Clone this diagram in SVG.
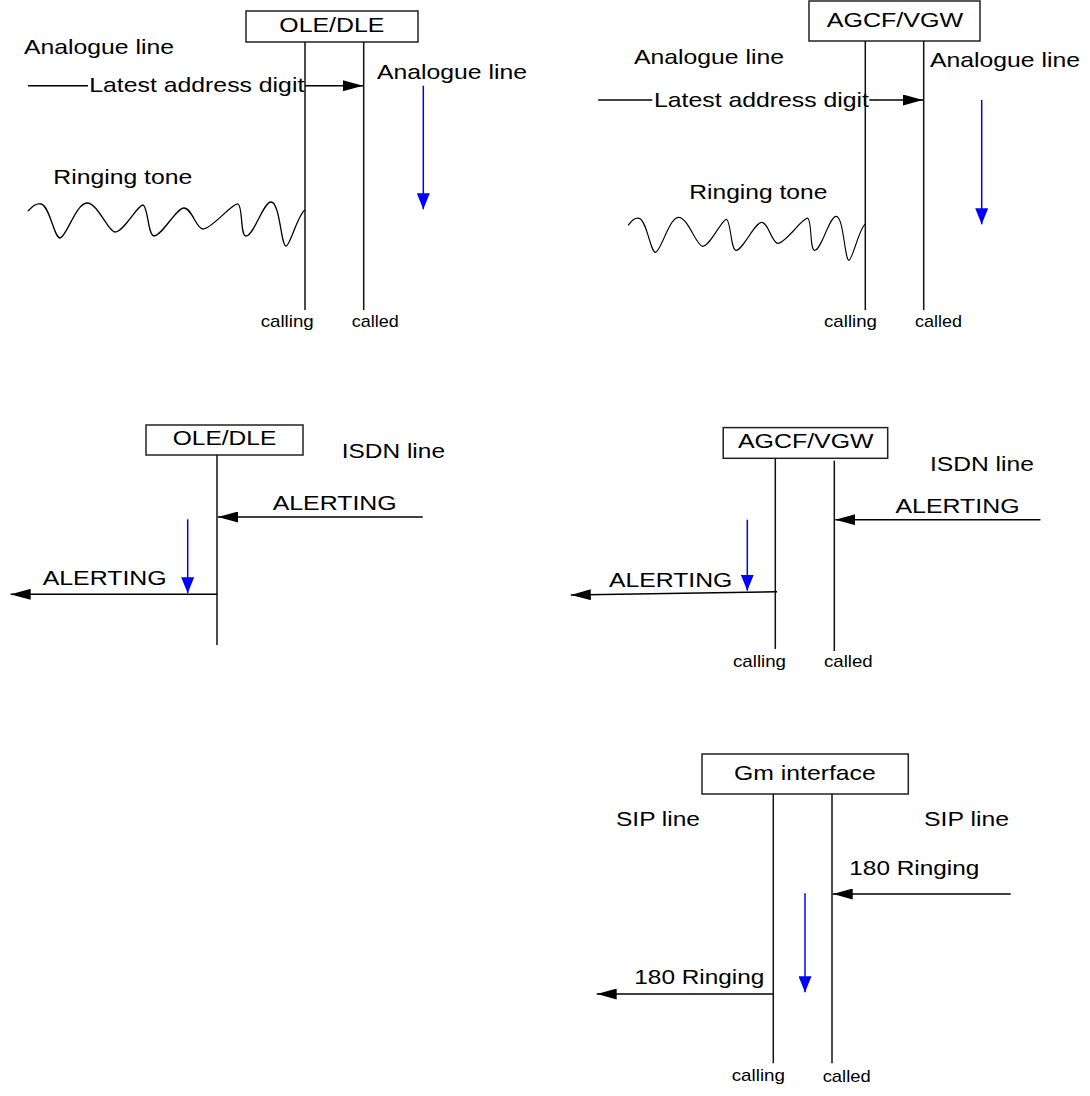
<svg xmlns="http://www.w3.org/2000/svg" width="1090" height="1096" viewBox="0 0 1090 1096">
<style>
  .t { font-family: "Liberation Sans", Arial, sans-serif; font-size: 21px; fill: #000; }
  .s { font-family: "Liberation Sans", Arial, sans-serif; font-size: 17px; fill: #000; }
  .box { fill: #fff; stroke: #222; stroke-width: 1.5; }
  .life { stroke: #111; stroke-width: 1.5; fill: none; }
  .msg { stroke: #000; stroke-width: 1.5; fill: none; }
  .blue { stroke: #0000ff; stroke-width: 1.5; fill: none; }
  .wave { stroke: #000; stroke-width: 1.3; fill: none; }
</style>
<defs>
  <marker id="ah" markerUnits="userSpaceOnUse" markerWidth="20" markerHeight="11" refX="20" refY="5.5" orient="auto">
    <path d="M0,0 L20,5.5 L0,11 z" fill="#000"/>
  </marker>
  <marker id="bh" markerUnits="userSpaceOnUse" markerWidth="16" markerHeight="13" refX="16" refY="6.5" orient="auto">
    <path d="M0,0 L16,6.5 L0,13 z" fill="#0000ff"/>
  </marker>
  <path id="wavepath" d="M28,211 C33,206 36,203 41,204 C50,206 54,238 60,238 C66,238 76,203 87,203 C98,203 108,232 115,232 C124,232 138,204 143,205 C148,206 148,236 154,236 C162,236 176,208 184,208 C192,208 196,229 203,229 C212,229 233,202 238,204 C243,206 240,236 246,236 C254,236 263,202 271,202 C280,202 281,246 286,246 C290,246 298,214 305,210"/>
</defs>

<!-- Panel 1: OLE/DLE analogue -->
<g id="node-ole-dle-1">
  <rect class="box" x="246" y="11" width="172" height="31"/>
  <text class="t" x="279.3" y="32" textLength="105" lengthAdjust="spacingAndGlyphs">OLE/DLE</text>
  <line class="life" x1="305" y1="42" x2="305" y2="310"/>
  <line class="life" x1="363.7" y1="42" x2="363.7" y2="310"/>
  <text class="s" x="260.7" y="327" textLength="53" lengthAdjust="spacingAndGlyphs">calling</text>
  <text class="s" x="351.7" y="327" textLength="47" lengthAdjust="spacingAndGlyphs">called</text>
</g>
<g id="labels-1">
  <text class="t" x="24" y="54" textLength="150" lengthAdjust="spacingAndGlyphs">Analogue line</text>
  <text class="t" x="89.3" y="92" textLength="215" lengthAdjust="spacingAndGlyphs">Latest address digit</text>
  <text class="t" x="377" y="79" textLength="150" lengthAdjust="spacingAndGlyphs">Analogue line</text>
  <text class="t" x="53.3" y="184" textLength="139" lengthAdjust="spacingAndGlyphs">Ringing tone</text>
  <use href="#wavepath" class="wave"/>
</g>

<!-- Panel 2: AGCF/VGW analogue -->
<g id="node-agcf-vgw-1">
  <rect class="box" x="809" y="1" width="171" height="40"/>
  <text class="t" x="826.7" y="26.7" textLength="136.6" lengthAdjust="spacingAndGlyphs">AGCF/VGW</text>
  <line class="life" x1="865.3" y1="41" x2="865.3" y2="310"/>
  <line class="life" x1="923.7" y1="41" x2="923.7" y2="310"/>
  <text class="s" x="824" y="327" textLength="53" lengthAdjust="spacingAndGlyphs">calling</text>
  <text class="s" x="915" y="327" textLength="47" lengthAdjust="spacingAndGlyphs">called</text>
</g>
<g id="labels-2">
  <text class="t" x="634" y="64" textLength="150" lengthAdjust="spacingAndGlyphs">Analogue line</text>
  <text class="t" x="930" y="67" textLength="150" lengthAdjust="spacingAndGlyphs">Analogue line</text>
  <text class="t" x="654" y="107" textLength="215" lengthAdjust="spacingAndGlyphs">Latest address digit</text>
  <text class="t" x="689.3" y="199.3" textLength="138" lengthAdjust="spacingAndGlyphs">Ringing tone</text>
  <use href="#wavepath" class="wave" transform="translate(604.1,14.3) scale(0.856,1)" vector-effect="non-scaling-stroke"/>
</g>

<!-- Panel 3: OLE/DLE ISDN -->
<g id="node-ole-dle-2">
  <rect class="box" x="146" y="425" width="157" height="30"/>
  <text class="t" x="172.7" y="445" textLength="103.6" lengthAdjust="spacingAndGlyphs">OLE/DLE</text>
  <line class="life" x1="217" y1="455" x2="217" y2="645"/>
</g>
<g id="labels-3">
  <text class="t" x="341.7" y="458.3" textLength="103.3" lengthAdjust="spacingAndGlyphs">ISDN line</text>
  <text class="t" x="272.7" y="510" textLength="124" lengthAdjust="spacingAndGlyphs">ALERTING</text>
  <text class="t" x="42.7" y="585" textLength="124" lengthAdjust="spacingAndGlyphs">ALERTING</text>
</g>

<!-- Panel 4: AGCF/VGW ISDN -->
<g id="node-agcf-vgw-2">
  <rect class="box" x="723.2" y="427.6" width="164.5" height="30.7"/>
  <text class="t" x="738" y="448.2" textLength="135.5" lengthAdjust="spacingAndGlyphs">AGCF/VGW</text>
  <line class="life" x1="775.3" y1="458.3" x2="775.3" y2="649"/>
  <line class="life" x1="834.3" y1="460.7" x2="834.3" y2="651"/>
  <text class="s" x="733" y="667" textLength="53" lengthAdjust="spacingAndGlyphs">calling</text>
  <text class="s" x="824" y="667" textLength="48.7" lengthAdjust="spacingAndGlyphs">called</text>
</g>
<g id="labels-4">
  <text class="t" x="929.9" y="470.8" textLength="104" lengthAdjust="spacingAndGlyphs">ISDN line</text>
  <text class="t" x="895.5" y="513.2" textLength="124" lengthAdjust="spacingAndGlyphs">ALERTING</text>
  <text class="t" x="609" y="586.5" textLength="123.3" lengthAdjust="spacingAndGlyphs">ALERTING</text>
</g>

<!-- Panel 5: Gm interface -->
<g id="node-gm">
  <rect class="box" x="702" y="754" width="206.3" height="40"/>
  <text class="t" x="734" y="780" textLength="141.7" lengthAdjust="spacingAndGlyphs">Gm interface</text>
  <line class="life" x1="773.3" y1="794" x2="773.3" y2="1063.3"/>
  <line class="life" x1="832" y1="794" x2="832" y2="1063.3"/>
  <text class="s" x="731.7" y="1080.7" textLength="53.3" lengthAdjust="spacingAndGlyphs">calling</text>
  <text class="s" x="822.7" y="1082.3" textLength="48" lengthAdjust="spacingAndGlyphs">called</text>
</g>
<g id="labels-5">
  <text class="t" x="616" y="825.7" textLength="84" lengthAdjust="spacingAndGlyphs">SIP line</text>
  <text class="t" x="924" y="825.7" textLength="85" lengthAdjust="spacingAndGlyphs">SIP line</text>
  <text class="t" x="849.3" y="875" textLength="130" lengthAdjust="spacingAndGlyphs">180 Ringing</text>
  <text class="t" x="634.3" y="984.3" textLength="130" lengthAdjust="spacingAndGlyphs">180 Ringing</text>
</g>

<g id="connectors">
  <!-- panel 1 -->
  <line class="msg" x1="28" y1="85.7" x2="88" y2="85.7"/>
  <line class="msg" x1="305" y1="85.7" x2="363" y2="85.7" marker-end="url(#ah)"/>
  <line class="blue" x1="423.3" y1="85.7" x2="423.3" y2="209.3" marker-end="url(#bh)"/>
  <!-- panel 2 -->
  <line class="msg" x1="598.3" y1="100" x2="652.3" y2="100"/>
  <line class="msg" x1="869.3" y1="100" x2="923" y2="100" marker-end="url(#ah)"/>
  <line class="blue" x1="981.7" y1="100" x2="981.7" y2="224.3" marker-end="url(#bh)"/>
  <!-- panel 3 -->
  <line class="msg" x1="422.7" y1="517" x2="218" y2="517" marker-end="url(#ah)"/>
  <line class="blue" x1="187.7" y1="519.3" x2="187.7" y2="593.3" marker-end="url(#bh)"/>
  <line class="msg" x1="217" y1="594.3" x2="10.7" y2="594.3" marker-end="url(#ah)"/>
  <!-- panel 4 -->
  <line class="msg" x1="1040.4" y1="519.7" x2="835.3" y2="519.7" marker-end="url(#ah)"/>
  <line class="blue" x1="747.3" y1="519.7" x2="747.3" y2="590.7" marker-end="url(#bh)"/>
  <line class="msg" x1="777" y1="591.7" x2="570.8" y2="595" marker-end="url(#ah)"/>
  <!-- panel 5 -->
  <line class="msg" x1="1010.7" y1="894" x2="832.7" y2="894" marker-end="url(#ah)"/>
  <line class="blue" x1="805" y1="893.3" x2="805" y2="992.3" marker-end="url(#bh)"/>
  <line class="msg" x1="773.3" y1="994" x2="596.7" y2="994" marker-end="url(#ah)"/>
</g>
</svg>
